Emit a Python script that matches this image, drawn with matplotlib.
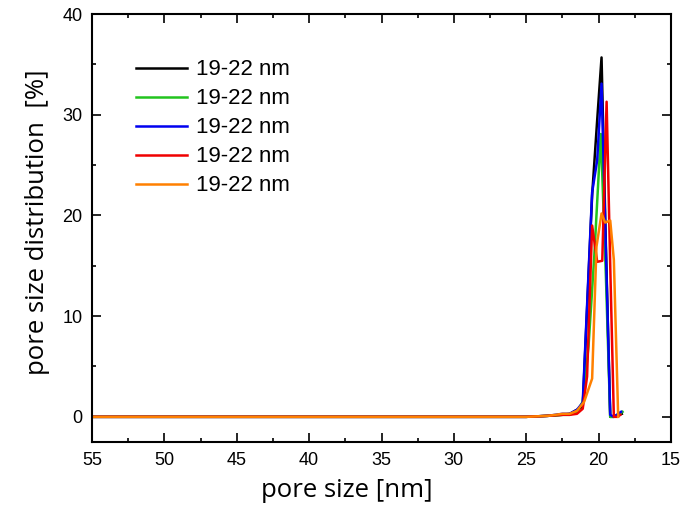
import matplotlib.pyplot as plt
from matplotlib.ticker import MultipleLocator

# pore size [nm] and distribution [%] for the five samples
size_black = [55, 50, 40, 30, 25, 23.5, 22.5, 22.0, 21.5, 21.1, 20.45, 20.1, 19.8, 19.5, 19.2, 18.95, 18.65, 18.4]
pct_black = [0, 0, 0, 0, 0, 0.1, 0.2, 0.3, 0.7, 1.0, 22.0, 29.5, 35.7, 17.0, 0.0, 0.0, 0.2, 0.3]

size_green = [55, 50, 40, 30, 25, 23.5, 22.5, 22.0, 21.5, 21.1, 20.7, 20.3, 19.85, 19.5, 19.2, 18.95, 18.65, 18.35]
pct_green = [0, 0, 0, 0, 0, 0.1, 0.2, 0.2, 0.5, 1.5, 7.0, 16.0, 28.1, 14.0, 0.0, 0.0, 0.2, 0.5]

size_blue = [55, 50, 40, 30, 25, 23.5, 22.5, 22.0, 21.5, 21.1, 20.45, 20.1, 19.8, 19.5, 19.2, 18.95, 18.65, 18.45]
pct_blue = [0, 0, 0, 0, 0, 0.1, 0.3, 0.3, 0.7, 1.4, 22.3, 25.5, 33.1, 16.5, 0.2, 0.0, 0.3, 0.5]

size_red = [55, 50, 40, 30, 25, 23.5, 22.5, 22.0, 21.5, 21.1, 20.8, 20.45, 20.1, 19.75, 19.45, 19.2, 18.95, 18.7, 18.5]
pct_red = [0, 0, 0, 0, 0, 0.1, 0.2, 0.2, 0.3, 0.8, 4.0, 19.0, 15.4, 15.5, 31.3, 15.0, 0.0, 0.0, 0.2]

size_orange = [55, 50, 40, 30, 25, 23.5, 22.5, 22.0, 21.5, 21.0, 20.45, 20.15, 19.8, 19.55, 19.2, 18.95, 18.65]
pct_orange = [0, 0, 0, 0, 0, 0.1, 0.3, 0.3, 0.6, 1.5, 3.8, 16.9, 20.2, 19.3, 19.5, 15.6, 0.0]

labels = ["19-22 nm"] * 5
colors = ["#000000", "#22c41e", "#0000f0", "#f00000", "#ff8000"]

fig = plt.figure(figsize=(6.8, 5.13), dpi=100)
ax = fig.add_axes([0.1353, 0.1384, 0.8515, 0.834])

series = [(size_black, pct_black), (size_green, pct_green), (size_blue, pct_blue),
          (size_red, pct_red), (size_orange, pct_orange)]
for (x, y), c, lab in zip(series, colors, labels):
    ax.plot(x, y, color=c, lw=1.8, label=lab)

ax.set_xlim(55, 15)
ax.set_ylim(-2.5, 40)
ax.xaxis.set_major_locator(MultipleLocator(5))
ax.xaxis.set_minor_locator(MultipleLocator(2.5))
ax.yaxis.set_major_locator(MultipleLocator(10))
ax.yaxis.set_minor_locator(MultipleLocator(5))
ax.tick_params(which="both", direction="in", top=True, right=True, width=1.2,
               labelsize=13, pad=7)
ax.tick_params(which="major", length=6.5)
ax.tick_params(which="minor", length=3.2)
for lbl in ax.get_xticklabels() + ax.get_yticklabels():
    lbl.set_family("Liberation Sans")
for s in ax.spines.values():
    s.set_linewidth(1.5)

ax.set_xlabel("pore size [nm]", family="Open Sans", fontsize=18.5, labelpad=7)
ax.set_ylabel("pore size distribution  [%]", family="Open Sans", fontsize=18.5, labelpad=9)
# axis titles sit a little off-centre
ax.xaxis.label.set_x(0.44)
ax.yaxis.label.set_y(0.514)

ax.legend(loc="upper left", bbox_to_anchor=(0.06, 0.915), frameon=False,
          prop={"family": "Liberation Sans", "size": 16}, handlelength=2.3,
          handletextpad=0.4, labelspacing=0.36, borderaxespad=0)

fig.savefig("out.png", dpi=100)
